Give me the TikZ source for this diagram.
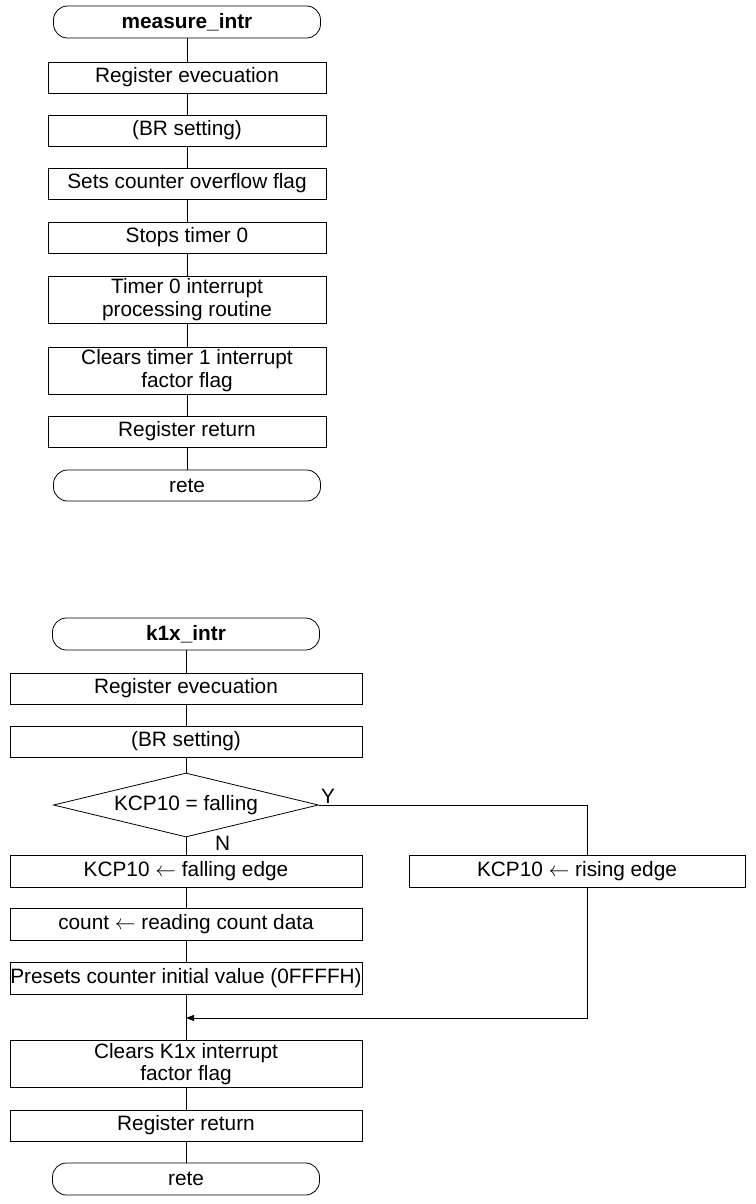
\documentclass[tikz,border=0pt]{standalone}
\usepackage{fontspec}
\setmainfont{Liberation Sans}
\usetikzlibrary{shapes.geometric,arrows.meta}
\begin{document}
\begin{tikzpicture}[x=1pt,y=-1pt,
  every node/.style={font=\fontsize{20.8pt}{22.5pt}\selectfont, inner sep=0pt, align=center},
  proc/.style={draw, line width=0.8pt, minimum height=#1},
  proc/.default=31pt,
  topbox/.style={proc=#1, minimum width=278pt},
  topbox/.default=31pt,
  botbox/.style={proc=#1, minimum width=352pt},
  botbox/.default=31pt,
  term/.style={draw, line width=0.8pt, rounded corners=14pt, minimum width=267pt, minimum height=#1},
  term/.default=32pt,
  link/.style={line width=0.8pt},
  decision/.style={draw, line width=0.8pt, diamond, aspect=4.14, minimum width=265pt, minimum height=64pt},
  lbl/.style={font=\fontsize{20.8pt}{22pt}\selectfont}
]
\useasboundingbox (0,0) rectangle (755,1204);
% ---------- measure_intr ----------
\node[term] (t1) at (187,22) {\bfseries measure\_intr};
\node[topbox] (a1) at (187,77.5) {Register evecuation};
\node[topbox] (a2) at (187,130.5) {(BR setting)};
\node[topbox] (a3) at (187,183.5) {Sets counter overflow flag};
\node[topbox] (a4) at (187,237.5) {Stops timer 0};
\node[topbox=47pt] (a5) at (187,299.5) {Timer 0 interrupt\\processing routine};
\node[topbox=47pt] (a6) at (187,370.5) {Clears timer 1 interrupt\\factor flag};
\node[topbox] (a7) at (187,431.5) {Register return};
\node[term=31pt] (t2) at (187,485.5) {rete};
\draw[link] (t1) -- (a1) -- (a2) -- (a3) -- (a4) -- (a5) -- (a6) -- (a7) -- (t2);
% ---------- k1x_intr ----------
\node[term] (t3) at (186,634) {\bfseries k1x\_intr};
\node[botbox] (b1) at (186,688.5) {Register evecuation};
\node[botbox] (b2) at (186,741.5) {(BR setting)};
\node[decision] (d) at (186,805) {KCP10 = falling};
\node[botbox=32pt] (b3) at (186,871) {KCP10 $\leftarrow$ falling edge};
\node[botbox=32pt] (r) at (577,871) [minimum width=336pt] {KCP10 $\leftarrow$ rising edge};
\node[botbox=32pt] (b4) at (186,924) {count $\leftarrow$ reading count data};
\node[botbox=32pt] (b5) at (186,978) {Presets counter initial value (0FFFFH)};
\node[botbox=47pt] (b6) at (186,1064) {Clears K1x interrupt\\factor flag};
\node[botbox] (b7) at (186,1125.5) {Register return};
\node[term] (t4) at (186,1179) {rete};
\coordinate (yc) at (587,805);
\coordinate (j) at (186,1018);
\node[lbl, anchor=south west] (ylab) at (321,804) {Y};
\node[lbl, anchor=north west] (nlab) at (215,836) {N};
\draw[link] (t3) -- (b1) -- (b2) -- (d) -- (b3) -- (b4) -- (b5) -- (b6) -- (b7) -- (t4);
\draw[link] (d.east) -- (yc) -- (yc |- r.north);
\draw[link, -{Triangle[length=8pt,width=6pt]}] (yc |- r.south) |- (j);
\end{tikzpicture}
\end{document}
